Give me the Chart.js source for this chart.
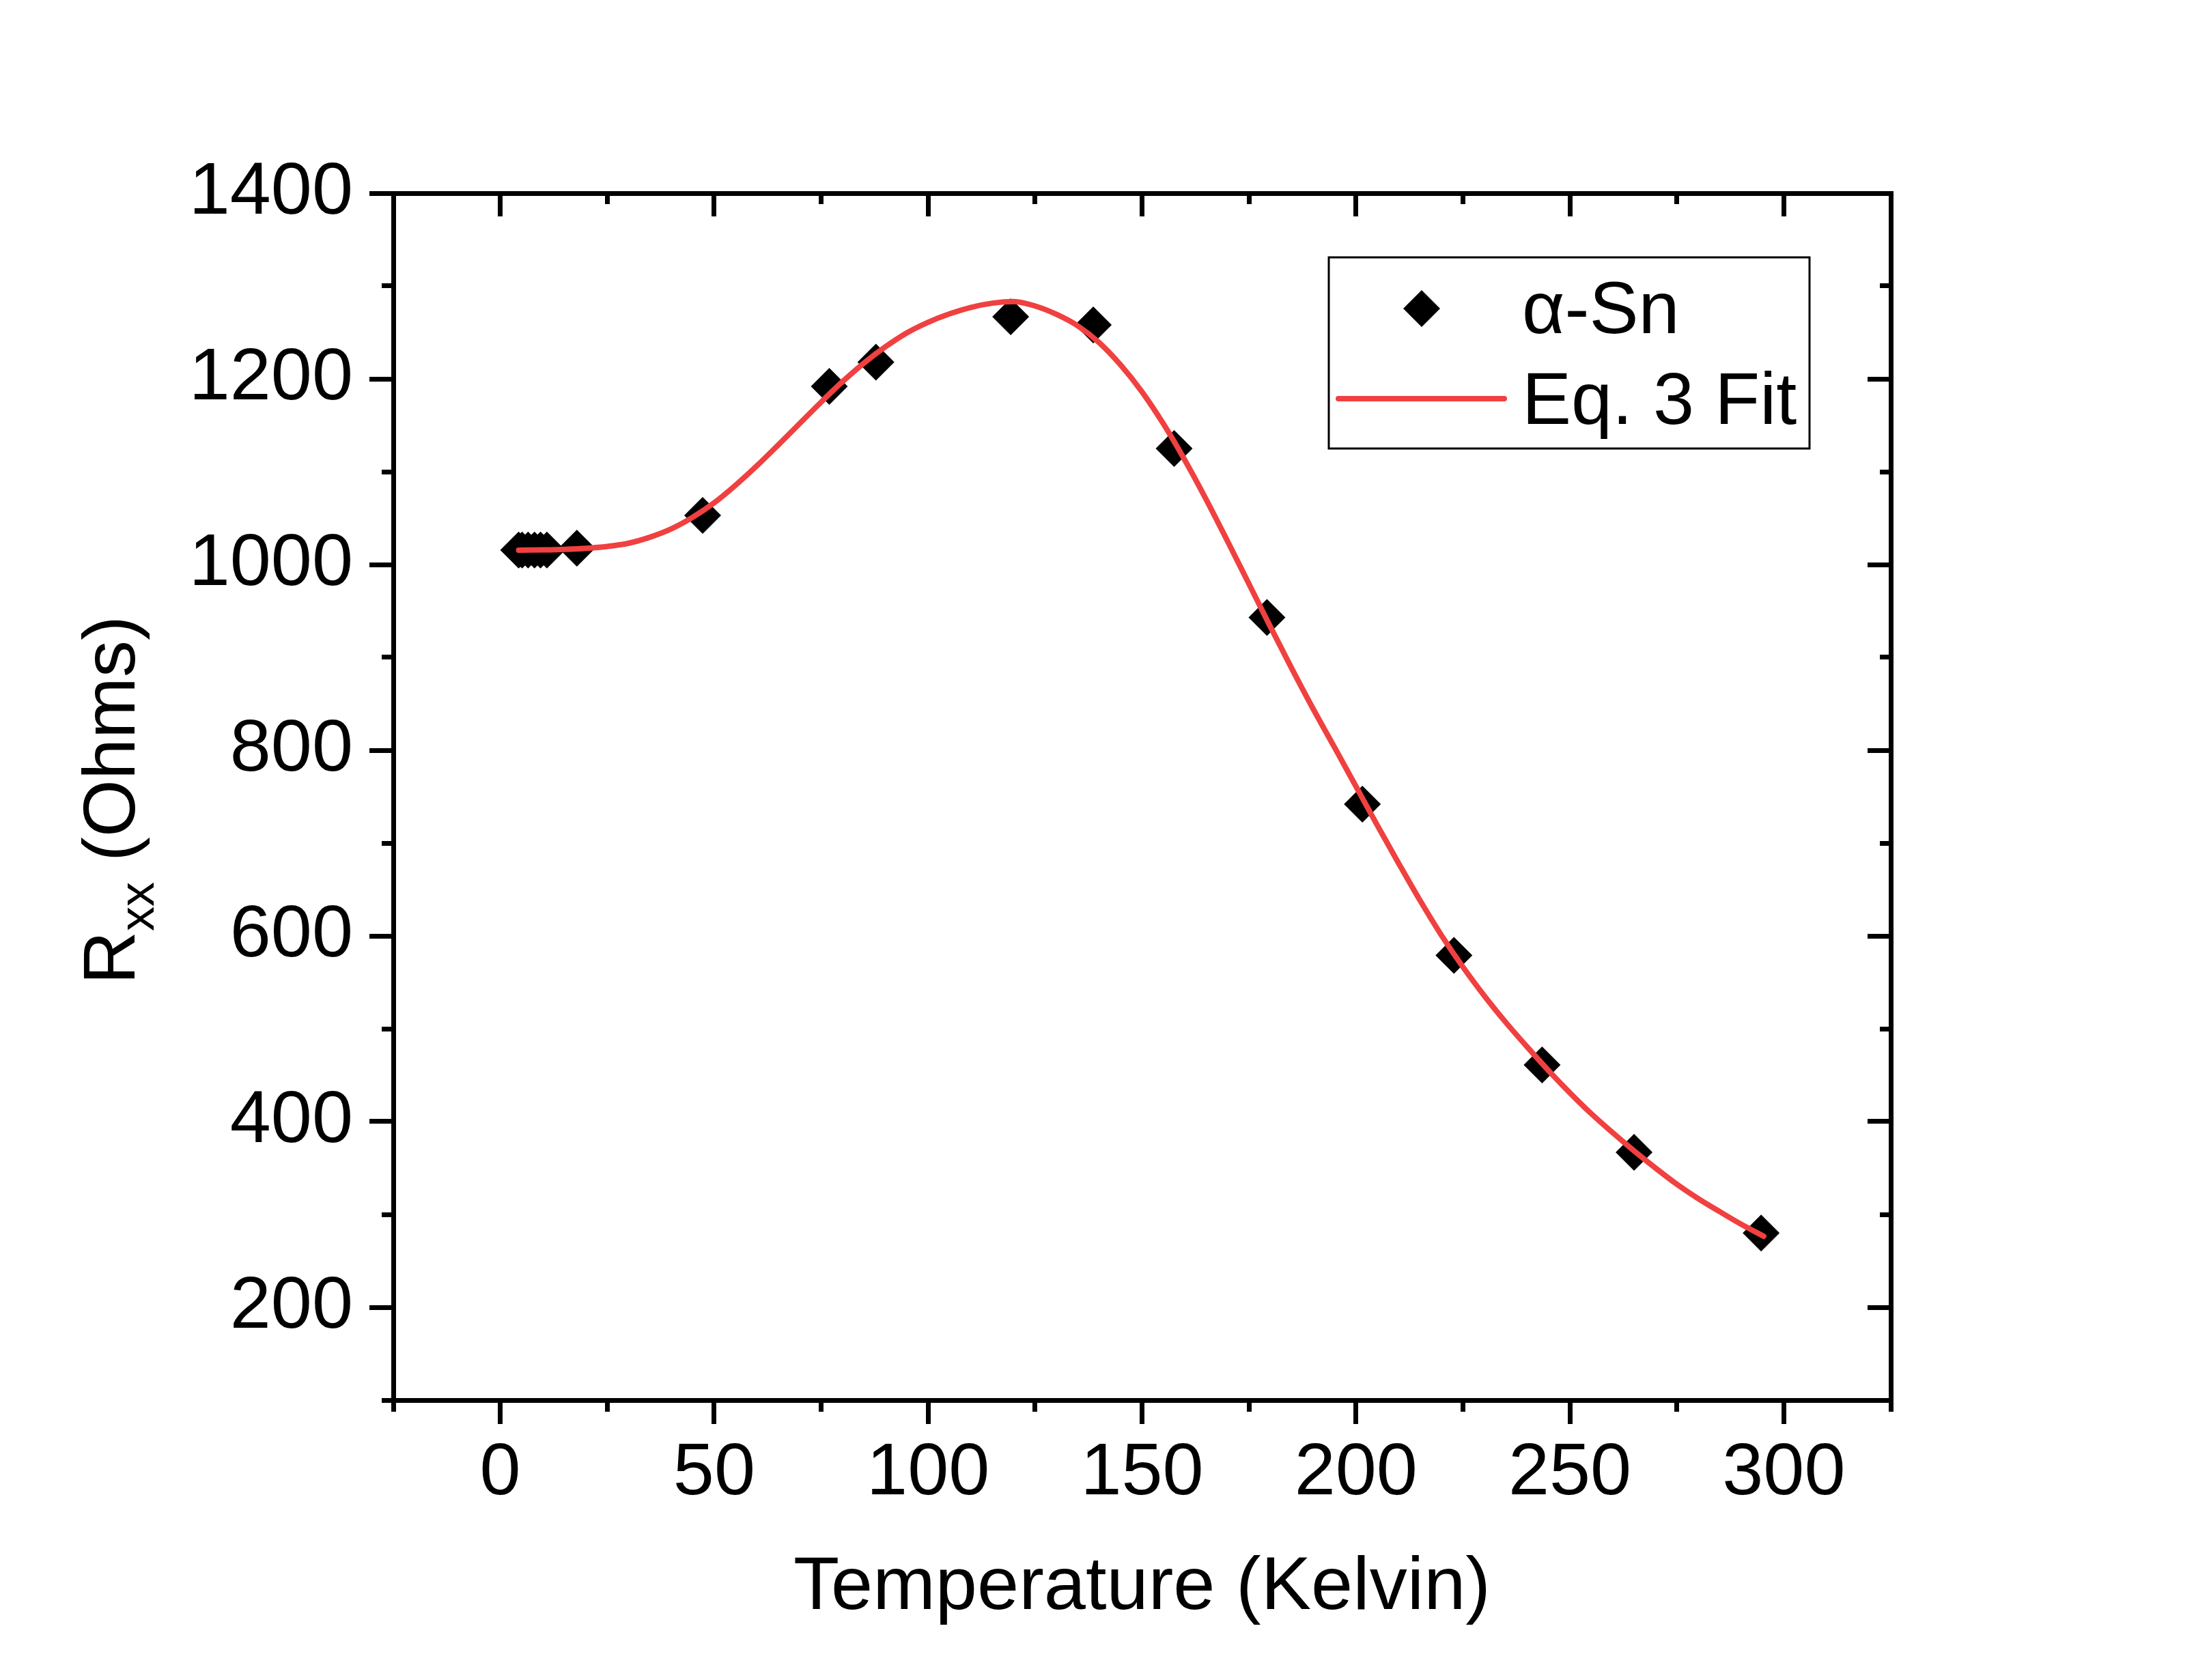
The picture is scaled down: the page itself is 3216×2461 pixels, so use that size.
<!DOCTYPE html>
<html>
<head>
<meta charset="utf-8">
<title>Rxx vs Temperature</title>
<script src="https://cdn.jsdelivr.net/npm/chart.js@4.4.1/dist/chart.umd.min.js"></script>
<style>
  html, body { margin: 0; padding: 0; background: #fff; }
  #wrap { width: 3216px; height: 2461px; }
</style>
</head>
<body>
<div id="wrap"><canvas id="rxxChart" width="3216" height="2461"></canvas></div>
<script>
// measured points (alpha-Sn)
const tempK = [4.3, 5.1, 6.5, 8.0, 9.4, 10.9, 17.9, 47.3, 76.9, 87.8, 119.3, 138.6, 157.5, 179.2, 201.5, 222.9, 243.5, 265.0, 294.7];
const rxxOhms = [1015.6, 1015.6, 1015.6, 1015.6, 1015.6, 1015.6, 1017.6, 1053, 1192, 1218, 1267, 1258, 1125, 943, 742, 579, 461, 367, 280];

// Eq. 3 fit curve
const fitTempK = [4.3, 10, 15, 20, 25, 30, 35, 40, 45, 50, 55, 60, 65, 70, 75, 80, 85, 90, 95, 100,
  105, 110, 115, 120, 125, 130, 135, 140, 145, 150, 155, 160, 165, 170, 175, 180, 185, 190, 195, 200,
  205, 210, 215, 220, 225, 230, 235, 240, 245, 250, 255, 260, 265, 270, 275, 280, 285, 290, 295.3];
const fitRxx = [1015.5, 1015.8, 1016.4, 1017.5, 1019.5, 1023, 1029.5, 1038.5, 1051, 1066.5, 1085.5, 1106.5, 1129, 1152, 1175, 1197, 1217, 1234.5, 1249.5, 1261,
  1270, 1277, 1281.5, 1283.3, 1278.5, 1269.5, 1257, 1239, 1215, 1186, 1151.5, 1112.5, 1070, 1025, 979, 933, 888, 844.5, 803, 761,
  719, 678, 638, 600.5, 566.5, 535.5, 507, 480.5, 455, 431, 408.5, 388, 368.5, 350, 332.5, 317, 303, 289.5, 276.5];

// tick values
const xMajorTicks = [0, 50, 100, 150, 200, 250, 300];
const xMinorTicks = [-25, 0, 25, 50, 75, 100, 125, 150, 175, 200, 225, 250, 275, 300, 325];
const yMajorTicks = [200, 400, 600, 800, 1000, 1200, 1400];
const yMinorTicks = [100, 200, 300, 400, 500, 600, 700, 800, 900, 1000, 1100, 1200, 1300, 1400];

const FONT = "'Liberation Sans', Arial, Helvetica, sans-serif";
const RED = '#f04040';

Chart.defaults.font.family = FONT;
Chart.defaults.color = '#000';

function setTicks(values) {
  return (scale) => { scale.ticks = values.map((v) => ({ value: v })); };
}
function fixedSize(size) {
  return (scale) => {
    if (scale.isHorizontal()) scale.height = size;
    else scale.width = size;
  };
}

// one axis per side and tick length: majors carry labels and the frame line
function axis(position, min, max, ticks, tickLength, size, withBorder, weight) {
  return {
    type: 'linear',
    position,
    min,
    max,
    weight,
    afterBuildTicks: setTicks(ticks),
    afterFit: fixedSize(size),
    ticks: { display: false },
    grid: { drawOnChartArea: false, drawTicks: true, tickLength, tickWidth: 7, tickColor: '#000' },
    border: { display: withBorder, width: 7, color: '#000' },
  };
}

const xAxis = axis('bottom', -25, 325, xMajorTicks, 35, 410, true, 1);
xAxis.ticks = { display: true, autoSkip: false, maxRotation: 0, padding: 8, font: { size: 108 }, color: '#000', callback: (v) => String(v) };
xAxis.title = { display: true, text: 'Temperature (Kelvin)', color: '#000', font: { size: 110 }, padding: { top: 0, bottom: 68 } };

const yAxis = axis('left', 100, 1400, yMajorTicks, 35, 576, true, 1);
yAxis.ticks = { display: true, autoSkip: false, padding: 24, font: { size: 108 }, color: '#000', callback: (v) => String(v) };

// y title with subscript, drawn on the canvas
const yTitlePlugin = {
  id: 'yTitle',
  afterDraw(chart) {
    const { ctx } = chart;
    const big = `108px ${FONT}`;
    const small = `72px ${FONT}`;
    ctx.save();
    ctx.fillStyle = '#000';
    ctx.textAlign = 'left';
    ctx.textBaseline = 'alphabetic';
    ctx.font = big;
    const wR = ctx.measureText('R').width;
    const wRest = ctx.measureText(' (Ohms)').width;
    ctx.font = small;
    const wSub = ctx.measureText('xx').width;
    const total = wR + wSub + wRest;
    ctx.translate(197, 1172);
    ctx.rotate(-Math.PI / 2);
    let x = -total / 2;
    ctx.font = big;
    ctx.fillText('R', x, 0);
    x += wR;
    ctx.font = small;
    ctx.fillText('xx', x, 28);
    x += wSub;
    ctx.font = big;
    ctx.fillText(' (Ohms)', x, 0);
    ctx.restore();
  },
};

// boxed legend inside the plot, top right
const boxLegendPlugin = {
  id: 'boxLegend',
  afterDraw(chart) {
    const { ctx } = chart;
    const pts = chart.data.datasets[1];
    const fit = chart.data.datasets[0];
    ctx.save();
    ctx.strokeStyle = '#000';
    ctx.lineWidth = 3;
    ctx.strokeRect(1946, 377, 704, 280);

    // diamond marker
    const cx = 2082, cy = 452, r = 27;
    ctx.fillStyle = pts.backgroundColor;
    ctx.beginPath();
    ctx.moveTo(cx - r, cy);
    ctx.lineTo(cx, cy - r);
    ctx.lineTo(cx + r, cy);
    ctx.lineTo(cx, cy + r);
    ctx.closePath();
    ctx.fill();

    // line sample
    ctx.strokeStyle = fit.borderColor;
    ctx.lineWidth = fit.borderWidth;
    ctx.lineCap = 'round';
    ctx.beginPath();
    ctx.moveTo(1960, 584);
    ctx.lineTo(2203, 584);
    ctx.stroke();

    ctx.fillStyle = '#000';
    ctx.font = `108px ${FONT}`;
    ctx.textAlign = 'left';
    ctx.textBaseline = 'alphabetic';
    ctx.fillText(pts.label, 2229, 488);
    ctx.fillText(fit.label, 2229, 621);
    ctx.restore();
  },
};

const ctx = document.getElementById('rxxChart').getContext('2d');
new Chart(ctx, {
  type: 'scatter',
  data: {
    datasets: [
      {
        label: 'Eq. 3 Fit',
        data: fitTempK.map((t, i) => ({ x: t, y: fitRxx[i] })),
        showLine: true,
        cubicInterpolationMode: 'monotone',
        borderColor: RED,
        borderWidth: 8,
        borderCapStyle: 'round',
        borderJoinStyle: 'round',
        pointRadius: 0,
        fill: false,
        order: 1,
        xAxisID: 'x',
        yAxisID: 'y',
      },
      {
        label: 'α-Sn',
        data: tempK.map((t, i) => ({ x: t, y: rxxOhms[i] })),
        pointStyle: 'rectRot',
        pointRadius: 27,
        pointHoverRadius: 27,
        backgroundColor: '#000',
        borderColor: '#000',
        borderWidth: 0,
        showLine: false,
        order: 2,
        xAxisID: 'x',
        yAxisID: 'y',
      },
    ],
  },
  options: {
    responsive: false,
    animation: false,
    devicePixelRatio: 1,
    events: [],
    layout: { padding: { left: 0, top: 283, right: 447, bottom: 0 } },
    plugins: {
      legend: { display: false },
      tooltip: { enabled: false },
    },
    scales: {
      x: xAxis,
      xMinor: axis('bottom', -25, 325, xMinorTicks, 17, 0, false, 0),
      xTop: axis('top', -25, 325, xMajorTicks, -34, 0, true, 1),
      xTopMinor: axis('top', -25, 325, xMinorTicks, -16, 0, false, 0),
      y: yAxis,
      yMinor: axis('left', 100, 1400, yMinorTicks, 17, 0, false, 0),
      yRight: axis('right', 100, 1400, yMajorTicks, -34, 0, true, 1),
      yRightMinor: axis('right', 100, 1400, yMinorTicks, -16, 0, false, 0),
    },
  },
  plugins: [yTitlePlugin, boxLegendPlugin],
});
</script>
</body>
</html>
